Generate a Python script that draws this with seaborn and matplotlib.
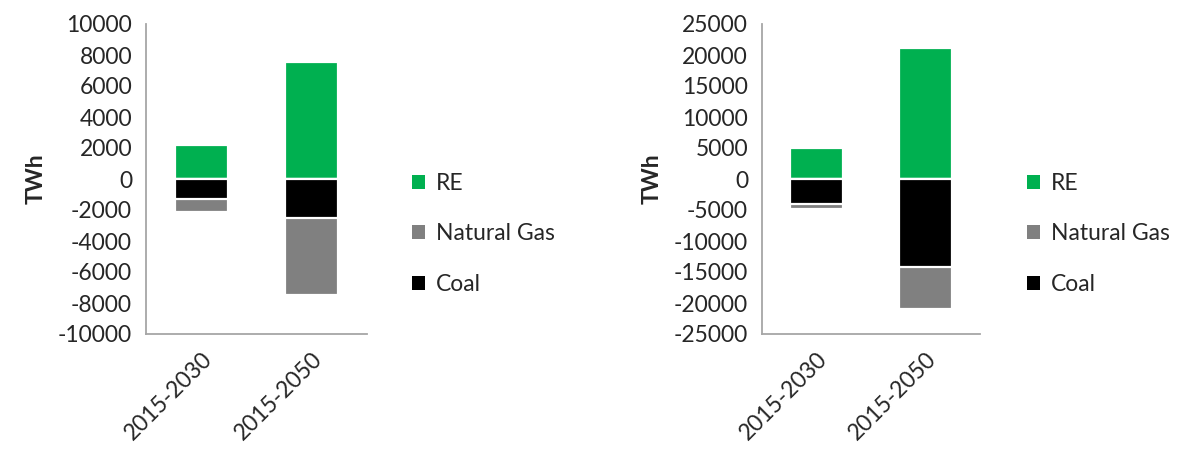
import matplotlib
matplotlib.use("Agg")
import matplotlib.pyplot as plt
import seaborn as sns
import pandas as pd
import numpy as np
from matplotlib.patches import Patch
from matplotlib.ticker import FixedLocator

sns.set_theme(style="white")
plt.rcParams['font.family'] = ['Lato', 'DejaVu Sans']

periods = ["2015-2030", "2015-2050"]
series_names = ["RE", "Natural Gas", "Coal"]
colors = {"RE": "#00B050", "Natural Gas": "#808080", "Coal": "#000000"}

# Left panel values (TWh)
re_left = [2200, 7550]
coal_left = [-1300, -2500]
gas_left = [-850, -5000]

# Right panel values (TWh)
re_right = [5000, 21200]
coal_right = [-4100, -14250]
gas_right = [-750, -6750]

left_ticks = list(range(-10000, 10001, 2000))
right_ticks = list(range(-25000, 25001, 5000))

fig = plt.figure(figsize=(11.79, 4.51), dpi=100)
W, H = 1179, 451
ax1 = fig.add_axes([146 / W, 1 - 334 / H, (367 - 146) / W, (334 - 24) / H])
ax2 = fig.add_axes([762 / W, 1 - 334 / H, (980 - 762) / W, (334 - 24) / H])

axis_col = "#A6A6A6"
fs = 16.5


def draw(ax, re, coal, gas, ticks, legend_x):
    df = pd.DataFrame({"period": periods, "RE": re, "Coal": coal,
                       "GasTotal": np.array(coal) + np.array(gas)})
    kw = dict(width=0.48, edgecolor="white", linewidth=1.6, ax=ax, order=periods)
    sns.barplot(data=df, x="period", y="RE", color=colors["RE"], saturation=1, **kw)
    sns.barplot(data=df, x="period", y="GasTotal", color=colors["Natural Gas"], saturation=1, **kw)
    sns.barplot(data=df, x="period", y="Coal", color=colors["Coal"], saturation=1, **kw)
    ax.set_xlim(-0.5, 1.5)
    ax.set_ylim(ticks[0], ticks[-1])
    ax.set_yticks(ticks)
    ax.set_yticklabels([str(t) for t in ticks], fontsize=fs)
    ax.set_xticks([0, 1])
    ax.set_xticklabels(periods, rotation=45, ha="right", rotation_mode="anchor", fontsize=fs)
    ax.xaxis.set_minor_locator(FixedLocator([-0.5, 0.5, 1.5]))
    ax.tick_params(axis="x", which="major", length=0, pad=10)
    ax.tick_params(axis="x", which="minor", length=6, width=1.3, color=axis_col, direction="out")
    ax.tick_params(axis="y", which="major", length=6, width=1.3, color=axis_col, direction="out", pad=4)
    for s in ["top", "right"]:
        ax.spines[s].set_visible(False)
    for s in ["left", "bottom"]:
        ax.spines[s].set_color(axis_col)
        ax.spines[s].set_linewidth(1.3)
    ax.set_xlabel("")
    ax.set_ylabel("TWh", fontsize=fs, fontweight="bold", labelpad=8)
    ax.grid(False)
    handles = [Patch(facecolor=colors[n], edgecolor="none") for n in series_names]
    fig.legend(handles, series_names, loc="center left",
               bbox_to_anchor=(legend_x, 1 - 234 / H), frameon=False,
               fontsize=fs, handlelength=0.55, handleheight=0.55, handletextpad=0.5,
               labelspacing=1.3, borderpad=0, borderaxespad=0)


draw(ax1, re_left, coal_left, gas_left, left_ticks, 412 / W)
draw(ax2, re_right, coal_right, gas_right, right_ticks, 1027 / W)

fig.savefig("out.png", dpi=100)
